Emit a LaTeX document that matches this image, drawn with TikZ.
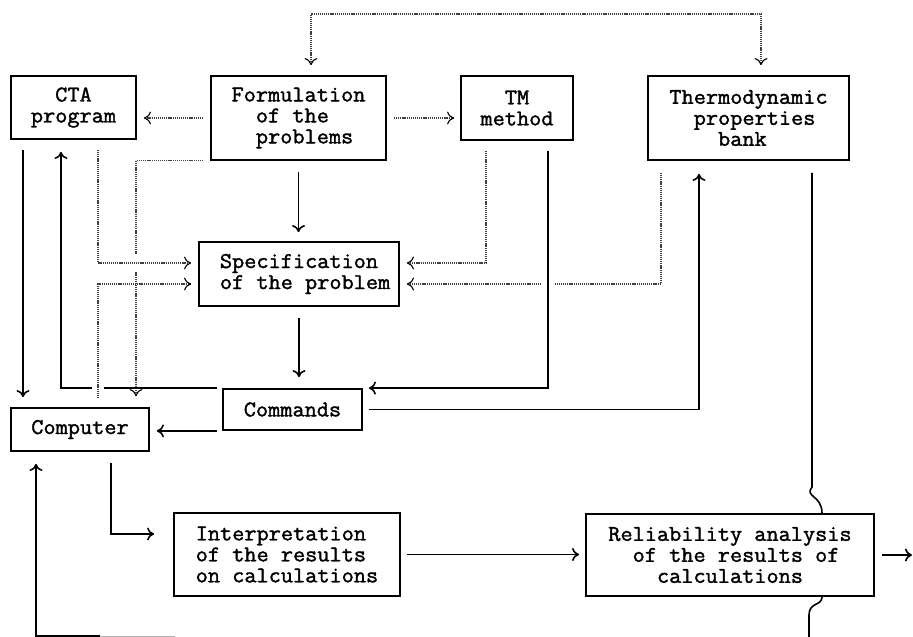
\documentclass[tikz,border=0pt]{standalone}
\usepackage{fontspec}
\usepackage{tikz}
\usetikzlibrary{positioning}
\usetikzlibrary{arrows.meta}
\usetikzlibrary{calc}

\newfontfamily\boxfont{Latin Modern Mono}[FakeBold=1.6, FakeStretch=1.05]

\begin{document}
\begin{tikzpicture}[x=1pt, y=-1pt, >={To[length=7pt, width=13pt]},
  box/.style={draw, line width=1.8pt, inner sep=0pt, align=center,
    font=\boxfont\fontsize{22.5pt}{21pt}\selectfont},
  link/.style={line width=1.6pt},
  dotlink/.style={dash pattern=on 1.2pt off 0.9pt, line width=1.1pt, black!75,
    >={To[length=7pt, width=13pt, black]}}]

\useasboundingbox (0,0) rectangle (913,637);

% boxes
\node [box, minimum width=125pt, minimum height=63pt] (cta) at (73.5,107.5) {CTA\\program};
\node [box, minimum width=175pt, minimum height=84pt, align=left] (form) at (298.5,118) {Formulation\\\phantom{xx}of the\\\phantom{xx}problems};
\node [box, minimum width=112pt, minimum height=64pt] (tm) at (517,108) {TM\\method};
\node [box, minimum width=201pt, minimum height=84pt, align=left] (thermo) at (748.5,118) {Thermodynamic\\\phantom{xx}properties\\\phantom{xxxx}bank};
\node [box, minimum width=200pt, minimum height=64pt, align=left] (spec) at (299,274) {\phantom{x}Specification\\\phantom{x}of the problem};
\node [box, minimum width=139pt, minimum height=41pt] (commands) at (292.5,409.5) {Commands};
\node [box, minimum width=138pt, minimum height=43pt] (computer) at (80,429.5) {Computer};
\node [box, minimum width=226pt, minimum height=83pt, align=left] (interp) at (287,554.5) {Interpretation\\of the results\\on calculations};
\node [box, minimum width=288pt, minimum height=82pt, align=left] (reli) at (730,555) {Reliability analysis\\\phantom{xx}of the results of\\\phantom{xxxx}calculations};

% bends and crossings
\coordinate (loop1) at (311,14);
\coordinate (loop2) at (761,14);
\coordinate (cx1) at (23,0);
\coordinate (cx2) at (61,0);
\coordinate (cx3) at (136,0);
\coordinate (sp1) at (98,263);
\coordinate (sp2) at (98,284);
\coordinate (sp3) at (486,263);
\coordinate (sp4) at (661,284);
\coordinate (tx1) at (548,0);
\coordinate (tx2) at (699,0);
\coordinate (ip1) at (111,534);
\coordinate (rx1) at (912,0);
\coordinate (rx2) at (822,0);
\coordinate (bk1) at (812,487);
\coordinate (bk2) at (809,615);
\coordinate (bk3) at (809,637);
\coordinate (bt1) at (175,636);
\coordinate (bt2) at (100,636);
\coordinate (bt3) at (36,636);
\coordinate (hop1) at (98,389);
\coordinate (hop2) at (548,284);
\coordinate (hop3) at (136,263);

% dotted links
\draw [dotlink, <->, shorten <=10pt, shorten >=10pt] (form.north -| loop1) -- (loop1) -- (loop2) -- (thermo.north -| loop2);
\draw [dotlink, ->, shorten <=7pt, shorten >=7pt] (form.west) -- (form.west -| cta.east);
\draw [dotlink, ->, shorten <=7pt, shorten >=6pt] (form.east) -- (form.east -| tm.west);
\draw [dotlink, ->, shorten <=7pt, shorten >=11pt] (form.south west) -| (computer.north -| cx3);
\fill [white] ($(hop3)+(-5,-9)$) rectangle ($(hop3)+(5,9)$);
\draw [dotlink, ->, shorten <=10pt, shorten >=7pt] (cta.south -| sp1) |- (spec.west |- sp1);
\draw [dotlink, ->, shorten <=10pt, shorten >=7pt] (tm.south -| sp3) |- (spec.east |- sp3);
\draw [dotlink, ->, shorten <=12pt, shorten >=7pt] (thermo.south -| sp4) |- (spec.east |- sp4);
\fill [white] ($(hop2)+(-6,-3)$) rectangle ($(hop2)+(6,3)$);

% solid links
\draw [link, ->, shorten <=11pt, shorten >=9pt] (form.south) -- (form.south |- spec.north);
\draw [link, ->, shorten <=10pt, shorten >=10pt] (cta.south -| cx1) -- (computer.north -| cx1);
\draw [link, ->, shorten <=5pt, shorten >=12pt] (commands.north west) -| (cta.south -| cx2);
\fill [white] ($(hop1)+(-6,-3)$) rectangle ($(hop1)+(6,3)$);
\draw [dotlink, ->, shorten <=9pt, shorten >=7pt] (computer.north -| sp2) |- (spec.west |- sp2);
\draw [link, ->, shorten <=10pt, shorten >=6pt] (tm.south -| tx1) |- (commands.north east);
\draw [link, ->, shorten <=6pt, shorten >=13pt] (commands.east) -| (thermo.south -| tx2);
\draw [link, ->, shorten <=11pt, shorten >=11pt] (spec.south) -- (spec.south |- commands.north);
\draw [link, ->, shorten <=5pt, shorten >=7pt] (commands.south west) -- (commands.south west -| computer.east);
\draw [link, ->, shorten <=11pt, shorten >=19pt] (computer.south -| ip1) |- (interp.west |- ip1);
\draw [link, ->, shorten <=6pt, shorten >=6pt] (interp.east) -- (interp.east -| reli.west);
\draw [link, ->, shorten <=7pt] (reli.east) -- (reli.east -| rx1);

% line behind the reliability box
\draw [link, shorten <=12pt] (thermo.south -| bk1) -- (bk1) .. controls (804,497) and (822,495) .. (reli.north -| rx2);
\draw [link] (reli.south -| rx2) .. controls (822,606) and (809,602) .. (bk2) -- (bk3);
\draw [gray!60, line width=1pt] (bt1) -- (bt2);
\draw [link, ->, shorten >=12pt] (bt2) -- (bt3) -- (computer.south -| bt3);

\end{tikzpicture}
\end{document}
